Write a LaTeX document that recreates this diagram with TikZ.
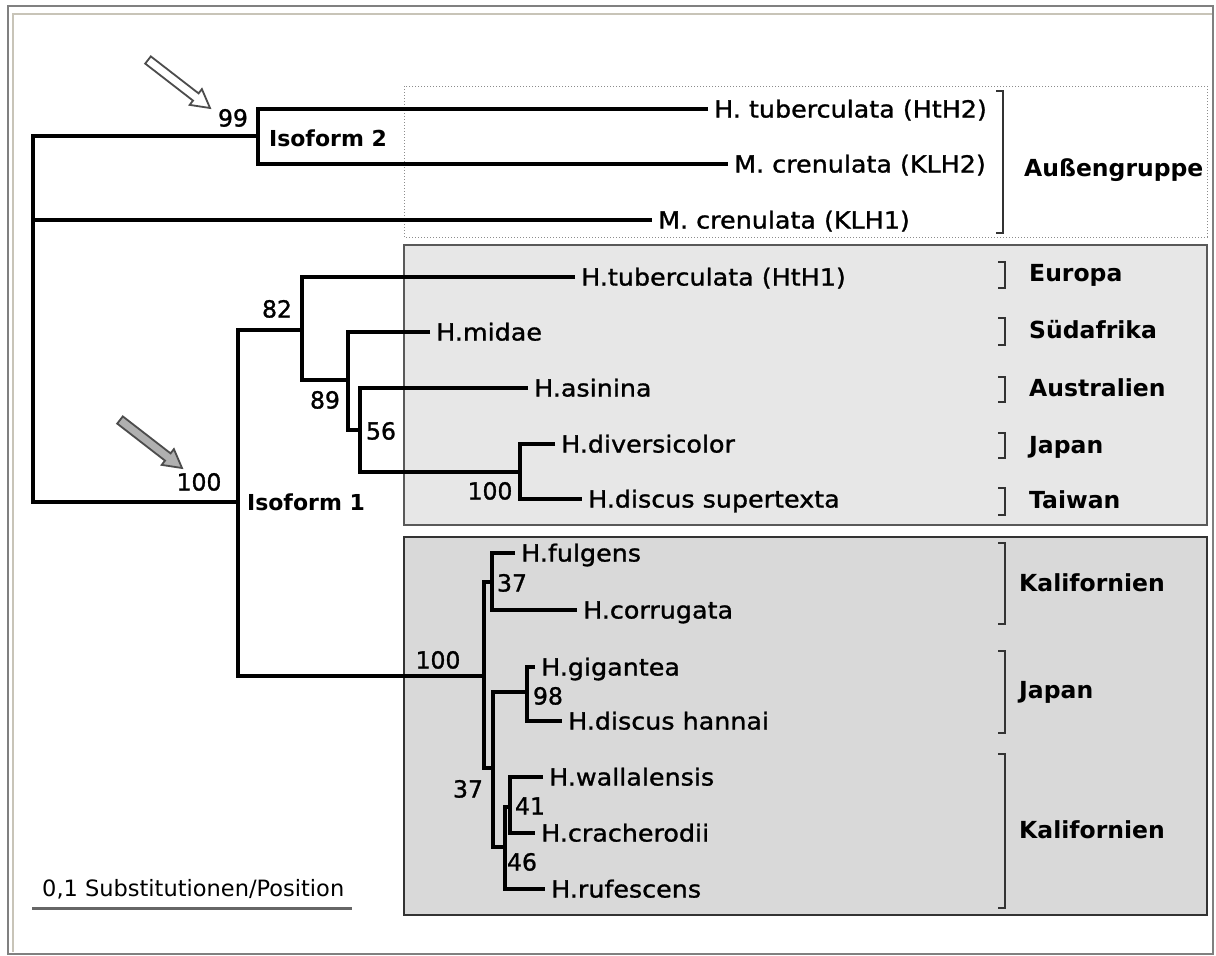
\documentclass[tikz,border=0pt]{standalone}
\usepackage{fontspec}
\setmainfont{DejaVu Sans}
\newfontfamily\spfont[FakeStretch=1.08,FakeBold=1.2]{DejaVu Sans}
\newfontfamily\numfont[FakeBold=1.2]{DejaVu Sans}
\definecolor{frameout}{RGB}{128,128,128}
\definecolor{framein}{RGB}{200,196,184}
\definecolor{boxa}{RGB}{231,231,231}
\definecolor{boxb}{RGB}{217,217,217}
\definecolor{arrgray}{RGB}{176,176,176}
\begin{document}
\begin{tikzpicture}[x=1pt,y=-1pt,
  br/.style={line width=4.5pt, draw=black},
  leaf/.style={anchor=west, inner xsep=6pt, inner ysep=0pt, text height=17pt, text depth=0pt, font=\spfont\fontsize{23.5}{28}\selectfont},
  boot/.style={inner sep=0pt, text height=17pt, text depth=0pt, font=\numfont\fontsize{23.5}{28}\selectfont},
  region/.style={anchor=west, inner sep=0pt, text height=17pt, text depth=0pt, font=\bfseries\fontsize{23.5}{28}\selectfont},
  iso/.style={inner sep=0pt, text height=16pt, text depth=0pt, font=\bfseries\fontsize{22}{26}\selectfont},
  brk/.style={line width=2pt, draw=black!80},
  blockarrow/.style={line width=1.8pt, draw=black!70},
]
\useasboundingbox (0,0) rectangle (1216,956);
\fill[white] (0,0) rectangle (1216,956);
% frame
\draw[framein, line width=2pt] (13,952) -- (13,14) -- (1212,14);
\draw[frameout, line width=2pt] (8,6) rectangle (1213,954);

% boxes
\draw[black!45, dotted, line width=1pt] (404,86) rectangle (1207,237);
\draw[fill=boxa, draw=black!65, line width=1.5pt] (404,245) rectangle (1207,525);
\draw[fill=boxb, draw=black!80, line width=1.5pt] (404,537) rectangle (1207,915);

% arrows
\draw[blockarrow, fill=white] (145.2,63.6) -- (193.0,100.6) -- (189.7,104.9) -- (210,108) -- (201.9,89.1) -- (198.6,93.4) -- (150.8,56.4) -- cycle;
\begin{scope}[shift={(-28,360)}]
\draw[blockarrow, fill=arrgray] (145.2,63.6) -- (193.0,100.6) -- (189.7,104.9) -- (210,108) -- (201.9,89.1) -- (198.6,93.4) -- (150.8,56.4) -- cycle;
\end{scope}

% leaves
\node[leaf] (HtH2) at (708,109) {H. tuberculata (HtH2)};
\node[leaf] (KLH2) at (728,164) {M. crenulata (KLH2)};
\node[leaf] (KLH1) at (652,220) {M. crenulata (KLH1)};
\node[leaf] (HtH1) at (575,277) {H.tuberculata (HtH1)};
\node[leaf] (midae) at (430,332) {H.midae};
\node[leaf] (asinina) at (528,388) {H.asinina};
\node[leaf] (divers) at (555,444) {H.diversicolor};
\node[leaf] (supertexta) at (582,499) {H.discus supertexta};
\node[leaf] (fulgens) at (515,553) {H.fulgens};
\node[leaf] (corrugata) at (577,610) {H.corrugata};
\node[leaf] (gigantea) at (535,667) {H.gigantea};
\node[leaf] (hannai) at (562,721) {H.discus hannai};
\node[leaf] (wallalensis) at (543,777) {H.wallalensis};
\node[leaf] (cracherodii) at (535,833) {H.cracherodii};
\node[leaf] (rufescens) at (545,889) {H.rufescens};

% internal nodes
\coordinate (r) at (33,220);
\coordinate (n99) at (258,136);
\coordinate (nI1) at (238,502);
\coordinate (n82) at (302,330);
\coordinate (n89) at (348,380);
\coordinate (n56) at (360,430);
\coordinate (n100c) at (520,472);
\coordinate (n100b) at (484,676);
\coordinate (n37a) at (492,582);
\coordinate (n37b) at (493,768);
\coordinate (n98) at (527,692);
\coordinate (n46) at (505,847);
\coordinate (n41) at (510,807);

% branches
\draw[br] (HtH2.west) -| (n99) |- (KLH2.west);
\draw[br] (n99) -| (r) |- (nI1);
\draw[br] (r) -- (KLH1.west);
\draw[br] (n82) -| (nI1) |- (n100b);
\draw[br] (HtH1.west) -| (n82) |- (n89);
\draw[br] (midae.west) -| (n89) |- (n56);
\draw[br] (asinina.west) -| (n56) |- (n100c);
\draw[br] (divers.west) -| (n100c) |- (supertexta.west);
\draw[br] (n37a) -| (n100b) |- (n37b);
\draw[br] (fulgens.west) -| (n37a) |- (corrugata.west);
\draw[br] (n98) -| (n37b) |- (n46);
\draw[br] (gigantea.west) -| (n98) |- (hannai.west);
\draw[br] (n41) -| (n46) |- (rufescens.west);
\draw[br] (wallalensis.west) -| (n41) |- (cracherodii.west);

% bootstrap values
\node[boot] (b99) at (233,118) {99};
\node[boot] (b82) at (277,309) {82};
\node[boot] (b89) at (325,400) {89};
\node[boot] (b56) at (381,431) {56};
\node[boot] (b100i) at (199,482) {100};
\node[boot] (b100c) at (490,491) {100};
\node[boot] (b100b) at (438,660) {100};
\node[boot] (b37a) at (512,583) {37};
\node[boot] (b98) at (548,696) {98};
\node[boot] (b37b) at (468,789) {37};
\node[boot] (b41) at (530,806) {41};
\node[boot] (b46) at (522,862) {46};

% isoform labels
\node[iso] (iso2) at (328,138) {Isoform 2};
\node[iso] (iso1) at (306,502) {Isoform 1};

% brackets
\draw[brk] (996,91) -- (1003,91) -- (1003,233) -- (996,233);
\draw[brk] (998,262) -- (1005,262) -- (1005,288) -- (998,288);
\draw[brk] (998,318) -- (1005,318) -- (1005,345) -- (998,345);
\draw[brk] (998,377) -- (1005,377) -- (1005,402) -- (998,402);
\draw[brk] (998,433) -- (1005,433) -- (1005,458) -- (998,458);
\draw[brk] (998,488) -- (1005,488) -- (1005,515) -- (998,515);
\draw[brk] (998,543) -- (1005,543) -- (1005,624) -- (998,624);
\draw[brk] (998,651) -- (1005,651) -- (1005,733) -- (998,733);
\draw[brk] (998,754) -- (1005,754) -- (1005,908) -- (998,908);

% region labels
\node[region] (rAuss) at (1024,168) {Außengruppe};
\node[region] (rEur) at (1029,273) {Europa};
\node[region] (rSud) at (1029,330) {Südafrika};
\node[region] (rAus) at (1029,388) {Australien};
\node[region] (rJap1) at (1029,445) {Japan};
\node[region] (rTai) at (1029,500) {Taiwan};
\node[region] (rKal1) at (1019,583) {Kalifornien};
\node[region] (rJap2) at (1019,690) {Japan};
\node[region] (rKal2) at (1019,830) {Kalifornien};

% scale bar
\coordinate (sb1) at (32,908);
\coordinate (sb2) at (352,908);
\draw[line width=3pt, black!60] (sb1) -- (sb2);
\node[anchor=west, inner sep=0pt, text height=16pt, text depth=0pt, font=\fontsize{22.5}{27}\selectfont] (sbl) at (42,888) {0,1 Substitutionen/Position};
\end{tikzpicture}
\end{document}
